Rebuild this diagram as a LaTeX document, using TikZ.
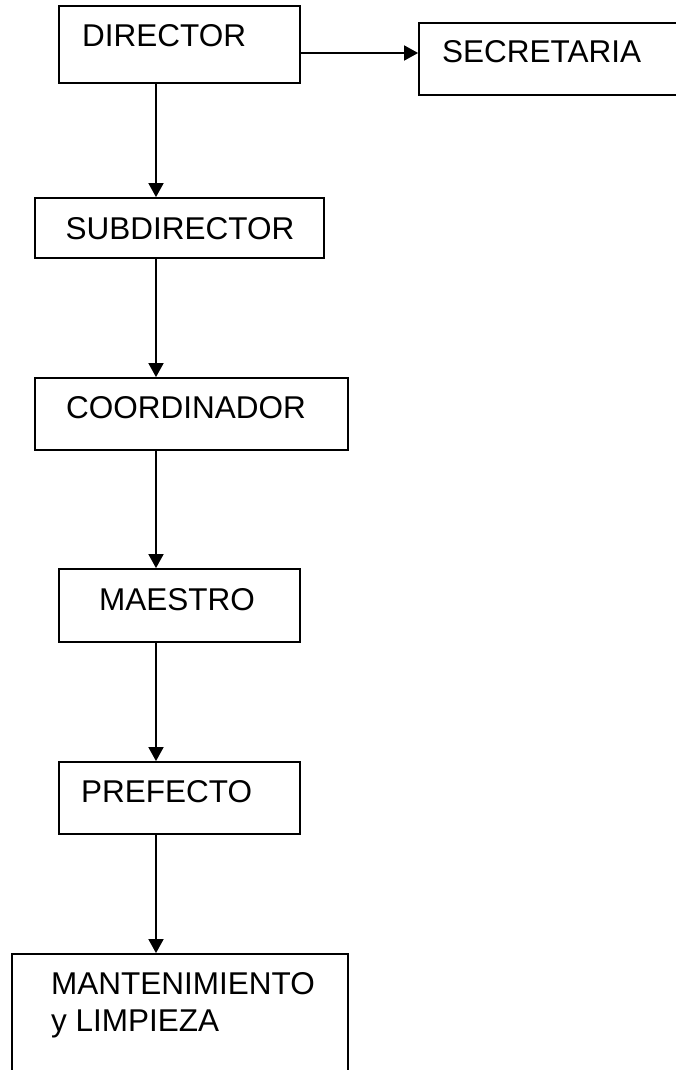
\documentclass[tikz,border=0pt]{standalone}
\usepackage{fontspec}
\setmainfont{Liberation Sans}
\usepackage{tikz}
\usetikzlibrary{shapes,arrows.meta,positioning,calc}

\begin{document}
\begin{tikzpicture}[x=1pt, y=-1pt, >={Triangle[length=14pt,width=15pt]}]
  \tikzstyle{cargo}=[rectangle, draw=black, line width=1.8pt, inner sep=0pt]
  \tikzstyle{etiqueta}=[anchor=base west, inner sep=0pt, font=\fontsize{31.5}{37}\selectfont]
  \tikzstyle{linea}=[->, line width=1.7pt]

  \useasboundingbox (0,0) rectangle (676,1070);
  \fill[white] (0,0) rectangle (676,1070);
  \clip (0,0) rectangle (676,1070);

  % Cajas
  \node[cargo, minimum width=241pt, minimum height=77pt] (director) at (179.5,44.5) {};
  \node[cargo, minimum width=281pt, minimum height=72pt] (secretaria) at (559.5,59) {};
  \node[cargo, minimum width=289pt, minimum height=60pt] (subdirector) at (179.5,228) {};
  \node[cargo, minimum width=313pt, minimum height=72pt] (coordinador) at (191.5,414) {};
  \node[cargo, minimum width=241pt, minimum height=73pt] (maestro) at (179.5,605.5) {};
  \node[cargo, minimum width=241pt, minimum height=72pt] (prefecto) at (179.5,798) {};
  \node[cargo, minimum width=336pt, minimum height=136pt] (mantenimiento) at (180,1022) {};

  % Textos
  \node[etiqueta] (tdirector) at (82,47) {DIRECTOR};
  \node[etiqueta] (tsecretaria) at (442,63) {SECRETARIA};
  \node[etiqueta] (tsubdirector) at (65.5,239) {SUBDIRECTOR};
  \node[etiqueta] (tcoordinador) at (66,418) {COORDINADOR};
  \node[etiqueta] (tmaestro) at (99,610) {MAESTRO};
  \node[etiqueta] (tprefecto) at (81,802) {PREFECTO};
  \node[etiqueta] (tmant) at (51,994) {MANTENIMIENTO};
  \node[etiqueta] (tlimp) at (51,1031) {y LIMPIEZA};

  % Lineas
  \coordinate (eje) at (156,0);
  \coordinate (nivel) at (0,53);
  \draw[linea] (director.east |- nivel) -- (secretaria.west |- nivel);
  \draw[linea] (director.south -| eje) -- (subdirector.north -| eje);
  \draw[linea] (subdirector.south -| eje) -- (coordinador.north -| eje);
  \draw[linea] (coordinador.south -| eje) -- (maestro.north -| eje);
  \draw[linea] (maestro.south -| eje) -- (prefecto.north -| eje);
  \draw[linea] (prefecto.south -| eje) -- (mantenimiento.north -| eje);
\end{tikzpicture}
\end{document}
